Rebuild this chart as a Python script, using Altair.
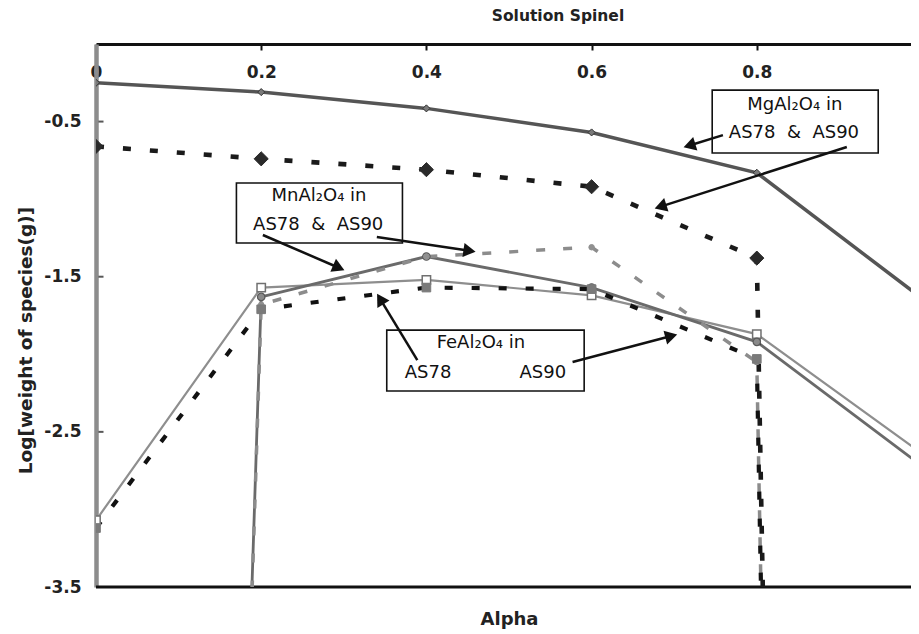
import altair as alt
import pandas as pd
import numpy as np

# ---------------- data ----------------
alpha = [0.0, 0.2, 0.4, 0.6, 0.8, 1.0]
mg_as78 = [-0.25, -0.31, -0.415, -0.57, -0.83, -1.64]
mg_as90 = [-0.66, -0.74, -0.81, -0.92, -1.38, -60.0]
mn_as78 = [-35.0, -1.63, -1.37, -1.57, -1.92, -2.72]
mn_as90 = [-35.0, -1.68, -1.37, -1.31, -2.05, -60.0]
fe_as78 = [-3.07, -1.57, -1.52, -1.62, -1.87, -2.64]
fe_as90 = [-3.12, -1.71, -1.57, -1.58, -2.03, -60.0]

x_ticks = [0, 0.2, 0.4, 0.6, 0.8, 1.0]
y_ticks = [-0.5, -1.5, -2.5, -3.5]

# annotation boxes (data units)
box_x1 = [0.746, 0.170, 0.352]
box_x2 = [0.947, 0.371, 0.591]
box_y1 = [-0.297, -0.896, -1.844]
box_y2 = [-0.703, -1.283, -2.237]

# annotation texts (data units)
NB = "\u00a0"
txt_label = ["MgAl₂O₄ in", "AS78" + NB * 2 + "&" + NB * 2 + "AS90",
             "MnAl₂O₄ in", "AS78" + NB * 2 + "&" + NB * 2 + "AS90",
             "FeAl₂O₄ in", "AS78", "AS90"]
txt_x = [0.846, 0.845, 0.270, 0.269, 0.466, 0.402, 0.541]
txt_y = [-0.393, -0.574, -0.980, -1.167, -1.927, -2.121, -2.121]

# arrows: start -> tip (data units)
arr_x1 = [0.759, 0.909, 0.202, 0.340, 0.389, 0.577]
arr_y1 = [-0.587, -0.664, -1.231, -1.244, -2.037, -2.050]
arr_x2 = [0.709, 0.674, 0.303, 0.462, 0.339, 0.706]
arr_y2 = [-0.670, -1.064, -1.463, -1.341, -1.599, -1.869]

# ---------------- layout ----------------
W, H = 815, 543
XRANGE = 826.0
YPX = H / 3.5
HEAD = 200

FONT = "DejaVu Sans"

x_scale = alt.Scale(domain=[0, 1], range=[0, XRANGE], nice=False, zero=False)
y_scale = alt.Scale(domain=[-3.5, 0], nice=False, zero=False)

x_axis = alt.Axis(
    orient="bottom", offset=-H, values=x_ticks, format="~g", labelFlush=False,
    grid=False, domainColor="#111111", domainWidth=3, tickColor="#111111",
    tickWidth=2, tickSize=6, labelPadding=14, labelFont=FONT,
    labelFontWeight="bold", labelFontSize=17, labelColor="#222222",
    title="Alpha", titleY=575, titleBaseline="middle", titleFont=FONT,
    titleFontSize=18, titleFontWeight="bold", titleColor="#222222",
)
y_axis = alt.Axis(
    values=y_ticks, labelExpr="'-' + format(abs(datum.value), '.1f')",
    grid=False, domainColor="#8c8c8c", domainWidth=4.5, ticks=False,
    labelPadding=15, labelFont=FONT, labelFontWeight="bold", labelFontSize=17,
    labelColor="#222222", title="Log[weight of species(g)]", titleAngle=270,
    titleX=-71, titleY=296, titleBaseline="middle", titleAlign="center",
    titleFont=FONT, titleFontSize=18.5, titleFontWeight="bold", titleColor="#222222",
)


def X(f):
    return alt.X(f + ":Q", scale=x_scale, axis=x_axis)


def Y(f):
    return alt.Y(f + ":Q", scale=y_scale, axis=y_axis)


layers = []

# bottom frame line at -3.5
layers.append(
    alt.Chart(pd.DataFrame({"v": [-3.5]}))
    .mark_rule(color="#111111", strokeWidth=3)
    .encode(y=Y("v"))
)

# small inward ticks on the y axis
layers.append(
    alt.Chart(pd.DataFrame({"v": y_ticks}))
    .mark_tick(orient="horizontal", size=5, thickness=2, color="#111111")
    .encode(y=Y("v"), x=alt.value(5))
)

series = [
    ("FeAl2O4 AS78", fe_as78,
     dict(color="#8e8e8e", strokeWidth=2.2),
     dict(shape="square", size=70, filled=True, fill="white", stroke="#707070", strokeWidth=1.5)),
    ("MnAl2O4 AS78", mn_as78,
     dict(color="#6a6a6a", strokeWidth=2.8),
     dict(shape="circle", size=55, filled=True, fill="#8a8a8a", stroke="#5a5a5a", strokeWidth=1.2)),
    ("MgAl2O4 AS78", mg_as78,
     dict(color="#555555", strokeWidth=3.5),
     dict(shape="diamond", size=50, filled=True, fill="#7a7a7a", stroke="#333333", strokeWidth=1)),
    ("MnAl2O4 AS90", mn_as90,
     dict(color="#8c8c8c", strokeWidth=3.5, strokeDash=[9, 18]),
     dict(shape="circle", size=30, filled=True, fill="#909090", stroke="#909090", strokeWidth=1)),
    ("FeAl2O4 AS90", fe_as90,
     dict(color="#111111", strokeWidth=4.2, strokeDash=[8, 19]),
     dict(shape="square", size=75, filled=True, fill="#7a7a7a", stroke="#7a7a7a", strokeWidth=1)),
    ("MgAl2O4 AS90", mg_as90,
     dict(color="#1a1a1a", strokeWidth=4.6, strokeDash=[8, 19]),
     dict(shape="diamond", size=200, filled=True, fill="#2a2a2a", stroke="#2a2a2a", strokeWidth=1)),
]

line_layers = []
point_layers = []
for name, vals, lstyle, pstyle in series:
    df = pd.DataFrame({"a": alpha, "v": vals, "s": name})
    base = alt.Chart(df)
    line_layers.append(base.mark_line(clip=True, **lstyle).encode(x=X("a"), y=Y("v")))
    point_layers.append(base.mark_point(clip=True, opacity=1, **pstyle).encode(x=X("a"), y=Y("v")))

layers += line_layers + point_layers

# annotation boxes
box_df = pd.DataFrame({"a": box_x1, "a2": box_x2, "v": box_y1, "v2": box_y2})
layers.append(
    alt.Chart(box_df)
    .mark_rect(fill="white", stroke="#111111", strokeWidth=1.6)
    .encode(x=X("a"), x2="a2:Q", y=Y("v"), y2="v2:Q")
)

# annotation texts
txt_df = pd.DataFrame({"a": txt_x, "v": txt_y, "t": txt_label})
layers.append(
    alt.Chart(txt_df)
    .mark_text(font=FONT, fontSize=18, color="#111111", baseline="middle", align="center")
    .encode(x=X("a"), y=Y("v"), text="t:N")
)

# arrows
ax1, ay1, ax2, ay2 = map(np.array, (arr_x1, arr_y1, arr_x2, arr_y2))
dxp = (ax2 - ax1) * XRANGE
dyp = -(ay2 - ay1) * YPX
L = np.hypot(dxp, dyp)
ux, uy = dxp / L, dyp / L
ang = np.degrees(np.arctan2(ux, -uy)) % 360
back = 0.577 * np.sqrt(HEAD)
hx = ax2 - ux * back / XRANGE
hy = ay2 + uy * back / YPX
arr_df = pd.DataFrame({"a": ax1, "v": ay1, "a2": hx, "v2": hy, "ang": ang})
layers.append(
    alt.Chart(arr_df)
    .mark_rule(color="#111111", strokeWidth=2.5)
    .encode(x=X("a"), y=Y("v"), x2="a2:Q", y2="v2:Q")
)
layers.append(
    alt.Chart(arr_df)
    .mark_point(shape="triangle-up", size=HEAD, filled=True, color="#111111", opacity=1)
    .encode(x=X("a2"), y=Y("v2"), angle=alt.Angle("ang:Q", scale=None))
)

# top title text
layers.append(
    alt.Chart(pd.DataFrame({"t": ["Solution Spinel"]}))
    .mark_text(font=FONT, fontSize=15.5, fontWeight="bold", color="#222222",
               align="center", baseline="middle")
    .encode(text="t:N", x=alt.value(462), y=alt.value(-28))
)

chart = (
    alt.layer(*layers)
    .properties(
        width=W, height=H,
        padding={"left": 88, "top": 36, "right": 0, "bottom": 42},
        autosize=alt.AutoSizeParams(type="none"),
        background="white",
    )
    .configure_view(strokeWidth=0)
)

chart.save("out.html", embed_options={"renderer": "svg", "actions": False})
